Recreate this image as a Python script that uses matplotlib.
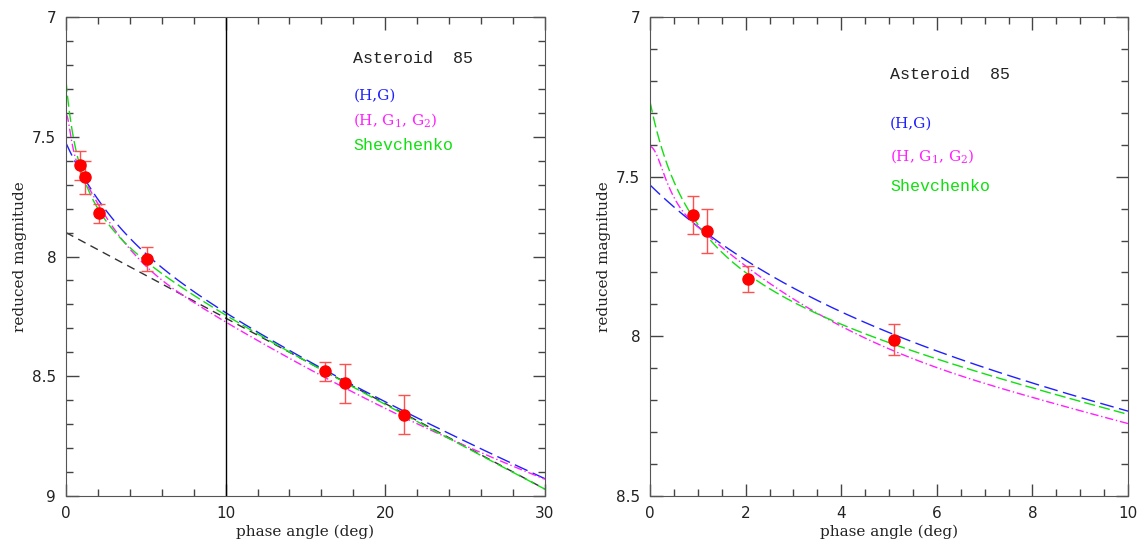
import numpy as np
import matplotlib.pyplot as plt
from matplotlib.ticker import MultipleLocator, FuncFormatter

plt.rcParams['mathtext.default'] = 'regular'

# observed reduced magnitudes
alpha_obs = np.array([0.9, 1.2, 2.05, 5.1, 16.2, 17.5, 21.2])
mag_obs = np.array([7.62, 7.67, 7.82, 8.01, 8.48, 8.53, 8.66])
mag_err = np.array([0.06, 0.07, 0.04, 0.05, 0.04, 0.08, 0.08])

# fitted model parameters
H_hg, G_hg = 7.526, 0.09
H_g12, G1, G2 = 7.405, 0.32, 0.22
shev_c, shev_a, shev_b = 7.965, 0.70, 0.0343
lin_c, lin_b = 7.90, 0.0357

# H,G1,G2 basis function nodes (deg) and values
phi1_nodes = [7.5, 30., 60., 90., 120., 150.]
phi1_vals = [7.5e-1, 3.3486016e-1, 1.3410560e-1, 5.1104756e-2, 2.1465687e-2, 3.6396989e-3]
phi1_der = (-1.9098593, -9.1328612e-2)
phi2_nodes = [7.5, 30., 60., 90., 120., 150.]
phi2_vals = [9.25e-1, 6.2884169e-1, 3.1755495e-1, 1.2716367e-1, 2.2373903e-2, 1.6505689e-4]
phi2_der = (-5.7295780e-1, -8.6573138e-8)
phi3_nodes = [0., 0.3, 1., 2., 4., 8., 12., 20., 30.]
phi3_vals = [1., 8.3381185e-1, 5.7735424e-1, 4.2144772e-1, 2.3174230e-1,
             1.0348178e-1, 6.1733473e-2, 1.6107006e-2, 0.]
phi3_der = (-1.0630097e-1, 0.)


def spline(xn, yn, d, x):
    # clamped cubic spline, abscissae in radians
    xn = np.radians(xn)
    yn = np.asarray(yn)
    x = np.radians(x)
    h = np.diff(xn)
    n = len(xn)
    A = np.zeros((n, n))
    r = np.zeros(n)
    A[0, :2] = [2 * h[0], h[0]]
    r[0] = 6 * ((yn[1] - yn[0]) / h[0] - d[0])
    for i in range(1, n - 1):
        A[i, i - 1:i + 2] = [h[i - 1], 2 * (h[i - 1] + h[i]), h[i]]
        r[i] = 6 * ((yn[i + 1] - yn[i]) / h[i] - (yn[i] - yn[i - 1]) / h[i - 1])
    A[-1, -2:] = [h[-1], 2 * h[-1]]
    r[-1] = 6 * (d[1] - (yn[-1] - yn[-2]) / h[-1])
    M = np.linalg.solve(A, r)
    i = np.clip(np.searchsorted(xn, x) - 1, 0, n - 2)
    a, b, hi = x - xn[i], xn[i + 1] - x, h[i]
    return ((M[i] * b**3 + M[i + 1] * a**3) / (6 * hi)
            + (yn[i] / hi - M[i] * hi / 6) * b + (yn[i + 1] / hi - M[i + 1] * hi / 6) * a)


def hg(alpha):
    # Bowell et al. (1989) with the small-angle smoothing term
    ar = np.radians(alpha)
    t = np.tan(ar / 2)
    s = np.sin(ar)
    w = np.exp(-90.56 * t**2)
    q = s / (0.119 + 1.341 * s - 0.754 * s**2)
    p1 = w * (1 - 0.986 * q) + (1 - w) * np.exp(-3.332 * t**0.631)
    p2 = w * (1 - 0.238 * q) + (1 - w) * np.exp(-1.862 * t**1.218)
    return H_hg - 2.5 * np.log10((1 - G_hg) * p1 + G_hg * p2)


def hg1g2(alpha):
    ar = np.radians(alpha)
    p1 = np.where(alpha < 7.5, 1 - 6 * ar / np.pi, spline(phi1_nodes, phi1_vals, phi1_der, alpha))
    p2 = np.where(alpha < 7.5, 1 - 9 * ar / (5 * np.pi), spline(phi2_nodes, phi2_vals, phi2_der, alpha))
    p3 = np.where(alpha < 30, spline(phi3_nodes, phi3_vals, phi3_der, alpha), 0.)
    return H_g12 - 2.5 * np.log10(G1 * p1 + G2 * p2 + (1 - G1 - G2) * p3)


def shevchenko(alpha):
    return shev_c - shev_a / (1 + alpha) + shev_b * alpha


def mag_fmt(v, pos):
    return ('%g' % round(v, 2))


fig = plt.figure(figsize=(11.45, 5.45), dpi=100)
ax1 = fig.add_axes([0.0576, 0.0899, 0.4183, 0.8789])
ax2 = fig.add_axes([0.5677, 0.0899, 0.4175, 0.8789])

for ax, xmax, ylow, xmaj, xmin in [(ax1, 30, 9, 10, 2), (ax2, 10, 8.5, 2, 0.5)]:
    a = np.linspace(0, xmax, 600)
    ax.plot(a, hg(a), color='#2020ff', lw=1, dashes=(10, 4))
    ax.plot(a, hg1g2(a), color='#ff20ff', lw=1, dashes=(6, 2, 1, 2))
    ax.plot(a, shevchenko(a), color='#10e010', lw=1, dashes=(8, 3))
    ax.errorbar(alpha_obs, mag_obs, yerr=mag_err, fmt='none', ecolor='#ff5050',
                elinewidth=1, capsize=4.5, capthick=1)
    ax.plot(alpha_obs, mag_obs, 'o', color='#ff0000', ms=8, zorder=5)
    ax.set_xlim(0, xmax)
    ax.set_ylim(ylow, 7)
    ax.xaxis.set_major_locator(MultipleLocator(xmaj))
    ax.xaxis.set_minor_locator(MultipleLocator(xmin))
    ax.yaxis.set_major_locator(MultipleLocator(0.5))
    ax.yaxis.set_minor_locator(MultipleLocator(0.1))
    ax.yaxis.set_major_formatter(FuncFormatter(mag_fmt))
    ax.tick_params(which='both', direction='in', top=True, right=True, colors='#444444',
                   labelcolor='#222222', labelsize=11)
    ax.tick_params(which='major', length=9, width=1)
    ax.tick_params(which='minor', length=5, width=1)
    ax.tick_params(axis='x', pad=7)
    ax.tick_params(axis='y', pad=7)
    for s in ax.spines.values():
        s.set_color('#555555')
    ax.set_xlabel('phase angle (deg)', family='DejaVu Serif', fontsize=11, color='#222222',
                  labelpad=3)
    ax.set_ylabel('reduced magnitude', family='DejaVu Serif', fontsize=11, color='#222222')

# linear part and the 10 deg boundary
a = np.linspace(0, 30, 100)
ax1.plot(a, lin_c + lin_b * a, color='#333333', lw=1, dashes=(6, 4), zorder=1)
ax1.axvline(10, color='black', lw=1)

labels = [('Asteroid  85', '#222222', 'Liberation Mono', 12),
          ('(H,G)', '#2020ff', 'DejaVu Serif', 11),
          ('(H, G$_1$, G$_2$)', '#ff20ff', 'DejaVu Serif', 11),
          ('Shevchenko', '#10e010', 'Liberation Mono', 12)]
for ax, x0, ys in [(ax1, 18.0, [7.175, 7.33, 7.43, 7.535]), (ax2, 5.02, [7.18, 7.335, 7.435, 7.53])]:
    for (txt, c, fam, fs), y in zip(labels, ys):
        ax.text(x0, y, txt, color=c, family=fam, va='center', fontsize=fs)

fig.savefig('out.png', dpi=100)
